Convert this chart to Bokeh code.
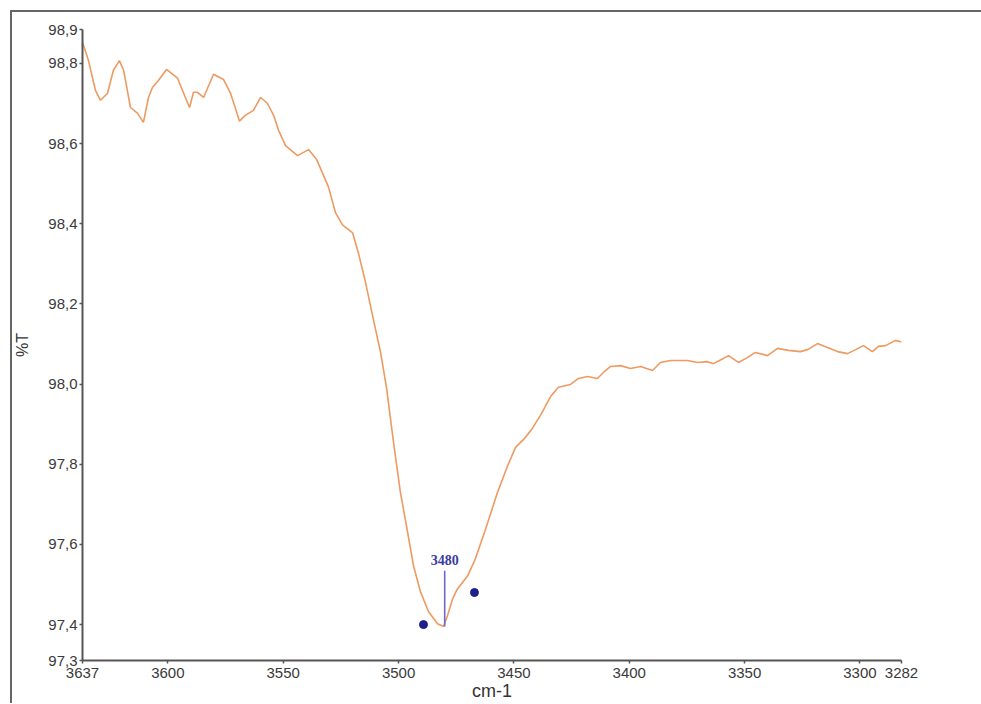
from bokeh.plotting import figure
from bokeh.models import FixedTicker, CustomJSTickFormatter, Range1d
from bokeh.core.properties import value
from bokeh.embed import file_html
from bokeh.resources import INLINE

# ---- data ----
wavenumber = [3637, 3634.4, 3631.4, 3629.2, 3626.2, 3623.6, 3621, 3619.2, 3616.2, 3613.2,
              3610.6, 3608.4, 3606.7, 3604, 3600.6, 3595.8, 3593.7, 3590.6, 3588.9, 3587.2,
              3584.5, 3582.8, 3580.2, 3575.9, 3572.8, 3570.7, 3569, 3566.3, 3562.9, 3559.8,
              3556.8, 3554.2, 3552, 3549, 3543.8, 3539, 3535.5, 3530.4, 3527.3, 3524.3,
              3519.9, 3517.4, 3514.3, 3510.9, 3507.8, 3505.2, 3502.2, 3499.2, 3496.1, 3493.5,
              3490.5, 3487.0, 3483.1, 3480.5, 3478.8, 3476.6, 3474.5, 3470.1, 3466.7, 3462.3,
              3457.1, 3452.8, 3449.3, 3445.8, 3442.3, 3438.5, 3434.1, 3430.7, 3425.5, 3422,
              3418.1, 3413.8, 3411.2, 3408.1, 3403.8, 3399.5, 3395.1, 3389.9, 3386.5, 3382.1,
              3374.8, 3370.4, 3366.1, 3363.5, 3360.5, 3357, 3352.7, 3348.8, 3345.3, 3340.1,
              3335.7, 3331, 3325.8, 3322.7, 3318.4, 3314.1, 3309.7, 3305.4, 3301.9, 3298.5,
              3294.6, 3292, 3288.9, 3284.6, 3282]
transmittance = [98.852, 98.807, 98.733, 98.708, 98.725, 98.783, 98.807, 98.783, 98.69, 98.676,
                 98.653, 98.715, 98.74, 98.758, 98.785, 98.763, 98.733, 98.69, 98.728, 98.728,
                 98.715, 98.738, 98.773, 98.76, 98.725, 98.688, 98.656, 98.671, 98.683, 98.715,
                 98.7, 98.671, 98.633, 98.595, 98.570, 98.585, 98.56, 98.492, 98.427, 98.397,
                 98.377, 98.327, 98.253, 98.161, 98.079, 97.99, 97.855, 97.73, 97.631, 97.546,
                 97.482, 97.432, 97.402, 97.395, 97.422, 97.464, 97.489, 97.521, 97.564, 97.638,
                 97.73, 97.795, 97.842, 97.862, 97.887, 97.922, 97.969, 97.992, 97.999, 98.014,
                 98.019, 98.014, 98.029, 98.044, 98.046, 98.039, 98.044, 98.034, 98.054, 98.059,
                 98.059, 98.054, 98.056, 98.051, 98.06, 98.071, 98.054, 98.066, 98.079, 98.071,
                 98.089, 98.084, 98.081, 98.086, 98.101, 98.091, 98.081, 98.076, 98.086, 98.096,
                 98.081, 98.094, 98.096, 98.109, 98.105]

x_ticks = [3637, 3600, 3550, 3500, 3450, 3400, 3350, 3300, 3282]
y_ticks = [97.3104, 97.4, 97.6, 97.8, 98.0, 98.2, 98.4, 98.6, 98.8, 98.8846]
y_tick_labels = ["97,3", "97,4", "97,6", "97,8", "98,0", "98,2", "98,4", "98,6", "98,8", "98,9"]

peak_x = [3480]
peak_y0 = [97.395]
peak_y1 = [97.534]
peak_label = ["3480"]
peak_label_y = [97.562]
marker_x = [3489.2, 3467.1]
marker_y = [97.40, 97.48]

x_start, x_end = 3637, 3282
y_start, y_end = 97.3104, 98.8846

p = figure(width=981, height=703, output_backend="svg", toolbar_location=None,
           x_range=Range1d(x_start, x_end), y_range=Range1d(y_start, y_end),
           min_border_left=82, min_border_top=29, min_border_right=80, min_border_bottom=41)
# thin grey picture frame along the top and left edges (the image is cropped on the right/bottom)
p.styles = {"background": "linear-gradient(#666666,#666666) 10px 10px / 2px 100% no-repeat, "
                          "linear-gradient(#666666,#666666) 10px 10px / 100% 2px no-repeat, #ffffff"}
p.background_fill_color = None
p.border_fill_color = None
p.outline_line_color = None
p.grid.visible = False

p.line(wavenumber, transmittance, line_color="#EE9A60", line_width=1.6)

p.segment(x0=peak_x, y0=peak_y0, x1=peak_x, y1=peak_y1, line_color="#6A6ACC", line_width=1.6)
p.text(x=peak_x, y=peak_label_y, text=peak_label, text_align="center", text_baseline="alphabetic",
       text_font=value("Liberation Serif"), text_font_size="14px", text_font_style="bold",
       text_color="#3C3CA0")
p.scatter(marker_x, marker_y, size=8, fill_color="#1E1E8C", line_color="#1E1E8C")

ax = p.xaxis[0]
ax.ticker = FixedTicker(ticks=x_ticks)
ax.axis_label = "cm-1"
ax.axis_label_text_font = "Liberation Sans"
ax.axis_label_text_font_size = "18px"
ax.axis_label_text_font_style = "normal"
ax.axis_label_text_color = "#333333"
ax.axis_label_standoff = 0
ax.major_label_text_font = "Liberation Sans"
ax.major_label_text_font_size = "15px"
ax.major_label_text_color = "#3a3a3a"
ax.major_label_standoff = 4
ax.axis_line_color = "#555555"
ax.axis_line_width = 2
ax.major_tick_line_color = "#555555"
ax.major_tick_line_width = 1.5
ax.major_tick_out = 3
ax.major_tick_in = 0
ax.minor_tick_line_color = None

ay = p.yaxis[0]
ay.ticker = FixedTicker(ticks=y_ticks)
ay.formatter = CustomJSTickFormatter(args=dict(vals=y_ticks, labs=y_tick_labels), code="""
    for (let i = 0; i < vals.length; i++) { if (Math.abs(vals[i] - tick) < 1e-6) return labs[i]; }
    return tick.toFixed(1).replace('.', ',');
""")
ay.axis_label = "%T"
ay.axis_label_text_font = "Liberation Sans"
ay.axis_label_text_font_size = "16px"
ay.axis_label_text_font_style = "normal"
ay.axis_label_text_color = "#333333"
ay.axis_label_standoff = 14
ay.major_label_text_font = "Liberation Sans"
ay.major_label_text_font_size = "15px"
ay.major_label_text_color = "#3a3a3a"
ay.major_label_standoff = 2
ay.axis_line_color = "#555555"
ay.axis_line_width = 2
ay.major_tick_line_color = "#555555"
ay.major_tick_line_width = 1.5
ay.major_tick_out = 3
ay.major_tick_in = 0
ay.minor_tick_line_color = None

open("out.html", "w").write(file_html(p, INLINE))
